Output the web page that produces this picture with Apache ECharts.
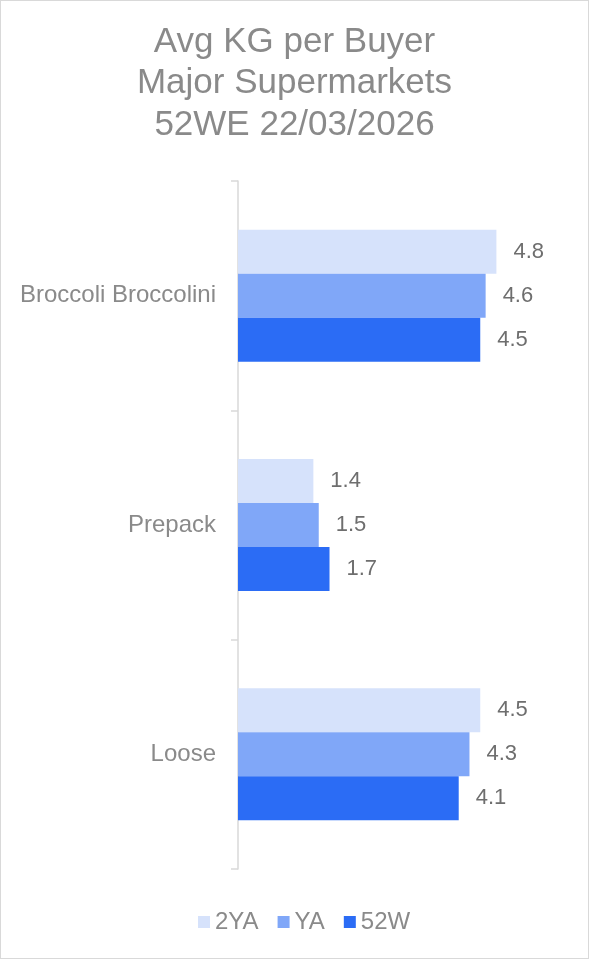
<!DOCTYPE html>
<html>
<head>
<meta charset="utf-8">
<script src="https://cdn.jsdelivr.net/npm/echarts@6/dist/echarts.min.js"></script>
<style>
  html, body { margin: 0; padding: 0; background: #fff; }
  #chart { width: 589px; height: 959px; box-sizing: border-box; border: 1px solid #d9d9d9; }
</style>
</head>
<body>
<div id="chart"></div>
<script>
// Product groups, top to bottom
const categories = ['Broccoli Broccolini', 'Prepack', 'Loose'];
// Average kilograms per buyer for each period
const seriesNames = ['2YA', 'YA', '52W'];
const values2YA = [4.8, 1.4, 4.5];
const valuesYA = [4.6, 1.5, 4.3];
const values52W = [4.5, 1.7, 4.1];
const seriesColors = ['#d6e2fb', '#80a7f8', '#2b6cf5'];

const font = 'Liberation Sans, Arial, sans-serif';
const dataSets = [values2YA, valuesYA, values52W];

const chart = echarts.init(document.getElementById('chart'), null, { renderer: 'canvas' });
chart.setOption({
  animation: false,
  title: {
    text: 'Avg KG per Buyer\nMajor Supermarkets\n52WE 22/03/2026',
    left: 'center',
    top: 15,
    textStyle: { color: '#8a8a8a', fontSize: 35, fontWeight: 'normal', fontFamily: font, lineHeight: 41.7 }
  },
  legend: {
    data: seriesNames,
    left: 192,
    top: 904,
    itemWidth: 12,
    itemHeight: 12,
    itemGap: 19,
    icon: 'rect',
    textStyle: { color: '#8a8a8a', fontSize: 24, fontFamily: font }
  },
  grid: { left: 237, right: 27, top: 180, bottom: 89, containLabel: false },
  xAxis: {
    type: 'value',
    min: 0,
    max: 6,
    show: false
  },
  yAxis: {
    type: 'category',
    data: categories,
    inverse: true,
    axisLine: { show: true, lineStyle: { color: '#d9d9d9', width: 1.5 } },
    axisTick: { show: true, length: 7, lineStyle: { color: '#d9d9d9', width: 1.5 } },
    axisLabel: { color: '#8a8a8a', fontSize: 24, fontFamily: font, margin: 22 }
  },
  series: seriesNames.map((name, i) => ({
    name: name,
    type: 'bar',
    data: dataSets[i],
    barWidth: 44,
    barGap: '0%',
    itemStyle: { color: seriesColors[i] },
    label: {
      show: true,
      position: 'right',
      distance: 17,
      color: '#6e6e6e',
      fontSize: 22,
      fontFamily: font,
      formatter: p => p.value.toFixed(1)
    }
  }))
});
</script>
</body>
</html>
